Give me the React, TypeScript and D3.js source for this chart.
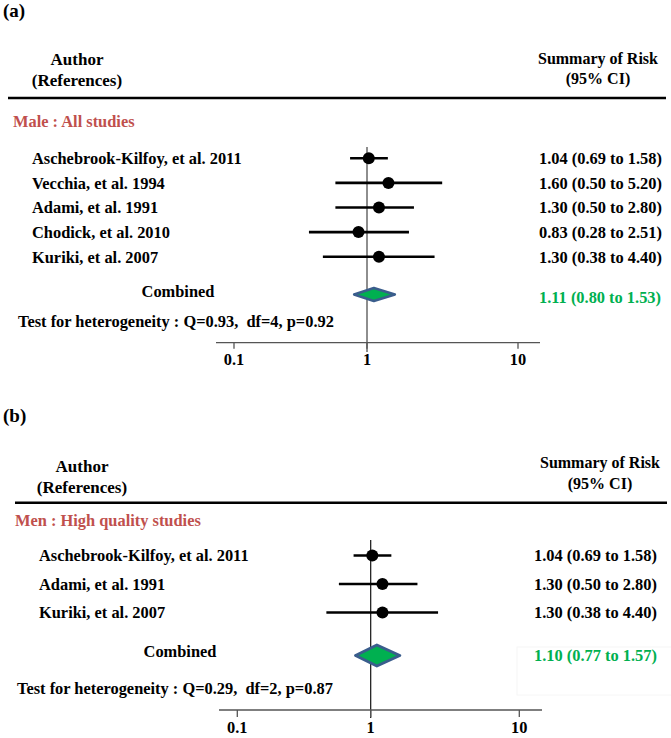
import React from "react";
import * as d3 from "d3";

// ---------- data ----------
const studiesA = [
  "Aschebrook-Kilfoy, et al. 2011",
  "Vecchia, et al. 1994",
  "Adami, et al. 1991",
  "Chodick, et al. 2010",
  "Kuriki, et al. 2007",
];
const rrA = [1.04, 1.6, 1.3, 0.83, 1.3];
const lowA = [0.69, 0.5, 0.5, 0.28, 0.38];
const highA = [1.58, 5.2, 2.8, 2.51, 4.4];
const combinedA = [1.11, 0.8, 1.53];
const hetA = "Test for heterogeneity : Q=0.93,\u00A0\u00A0df=4, p=0.92";
const groupA = "Male : All studies";

const studiesB = [
  "Aschebrook-Kilfoy, et al. 2011",
  "Adami, et al. 1991",
  "Kuriki, et al. 2007",
];
const rrB = [1.04, 1.3, 1.3];
const lowB = [0.69, 0.5, 0.38];
const highB = [1.58, 2.8, 4.4];
const combinedB = [1.1, 0.77, 1.57];
const hetB = "Test for heterogeneity : Q=0.29,\u00A0\u00A0df=2, p=0.87";
const groupB = "Men : High quality studies";

const tickValues = [0.1, 1, 10];

const FONT = "'Liberation Serif', 'Times New Roman', serif";
const GREEN = "#00b050";
const ROSE = "#c0504d";
const f2 = d3.format(".2f");
const ciText = (v: number, lo: number, hi: number) => `${f2(v)} (${f2(lo)} to ${f2(hi)})`;

type Layout = {
  label: string; labelY: number;
  authorX: number; authorY1: number; authorY2: number;
  sumX: number; sumY1: number; sumY2: number;
  hrY: number; hrX1: number; hrX2: number;
  groupX: number; groupY: number;
  rowY0: number; rowStep: number; nameX: number; valueX: number;
  combLabelX: number; combLabelY: number; combY: number; combH: number; combValueY: number;
  testX: number; testY: number;
  vTop: number; vBottom: number; vColor: string; vWidth: number;
  axisY: number; axisX1: number; axisX2: number; tickLen: number; tickLabelY: number;
  axisRange: number[]; markRange: number[];
  diamondStroke: number;
  faintBox?: boolean;
};

function Panel(props: {
  lay: Layout; group: string; studies: string[]; rr: number[]; lo: number[]; hi: number[];
  comb: number[]; het: string;
}) {
  const { lay, group, studies, rr, lo, hi, comb, het } = props;
  const axisScale = d3.scaleLog().domain([0.1, 1, 10]).range(lay.axisRange);
  const markScale = d3.scaleLog().domain([0.1, 10]).range(lay.markRange);
  const yScale = (i: number) => lay.rowY0 + lay.rowStep * i;
  const [cv, clo, chi] = comb;
  const diamond = d3.line()([
    [axisScale(clo), lay.combY],
    [axisScale(cv), lay.combY - lay.combH],
    [axisScale(chi), lay.combY],
    [axisScale(cv), lay.combY + lay.combH],
  ]) + "Z";
  const bold = { fontFamily: FONT, fontWeight: 700, fontSize: 16.4 } as const;
  const head = { ...bold, fontSize: 17 };
  return (
    <g>
      <text x={3} y={lay.labelY} style={{ ...bold, fontSize: 19 }}>{lay.label}</text>
      <text x={lay.authorX} y={lay.authorY1} textAnchor="middle" style={head}>Author</text>
      <text x={lay.authorX} y={lay.authorY2} textAnchor="middle" style={head}>(References)</text>
      <text x={lay.sumX} y={lay.sumY1} textAnchor="middle" style={{ ...bold, fontSize: 16 }}>Summary of Risk</text>
      <text x={lay.sumX} y={lay.sumY2} textAnchor="middle" style={{ ...bold, fontSize: 16 }}>(95% CI)</text>
      <line x1={lay.hrX1} x2={lay.hrX2} y1={lay.hrY} y2={lay.hrY} stroke="#000" strokeWidth={2.5} />
      <text x={lay.groupX} y={lay.groupY} fill={ROSE} style={bold}>{group}</text>

      {/* reference line at 1 */}
      <line x1={axisScale(1)} x2={axisScale(1)} y1={lay.vTop} y2={lay.vBottom} stroke={lay.vColor} strokeWidth={lay.vWidth} />

      {studies.map((s, i) => (
        <g key={s}>
          <text x={lay.nameX} y={yScale(i) + 5.8} style={bold}>{s}</text>
          <line x1={markScale(lo[i])} x2={markScale(hi[i])} y1={yScale(i)} y2={yScale(i)} stroke="#000" strokeWidth={2.6} />
          <circle cx={markScale(rr[i])} cy={yScale(i)} r={6} fill="#000" />
          <text x={lay.valueX} y={yScale(i) + 5.8} style={bold}>{ciText(rr[i], lo[i], hi[i])}</text>
        </g>
      ))}

      <text x={lay.combLabelX} y={lay.combLabelY} textAnchor="middle" style={bold}>Combined</text>
      <path d={diamond} fill={GREEN} stroke="#3a5d8c" strokeWidth={lay.diamondStroke} strokeLinejoin="round" />
      {lay.faintBox && (
        <rect x={517} y={647} width={160} height={48} fill="none" stroke="#f6f6f6" strokeWidth={1} />
      )}
      <text x={lay.valueX} y={lay.combValueY} fill={GREEN} style={bold}>{ciText(cv, clo, chi)}</text>

      <text x={lay.testX} y={lay.testY} style={bold}>{het}</text>

      <line x1={lay.axisX1} x2={lay.axisX2} y1={lay.axisY} y2={lay.axisY} stroke="#555" strokeWidth={1.3} />
      {tickValues.map((t) => (
        <g key={t}>
          <line x1={axisScale(t)} x2={axisScale(t)} y1={lay.axisY} y2={lay.axisY + lay.tickLen} stroke="#555" strokeWidth={1.3} />
          <text x={axisScale(t)} y={lay.tickLabelY} textAnchor="middle" style={bold}>{String(t)}</text>
        </g>
      ))}
    </g>
  );
}

const layA: Layout = {
  label: "(a)", labelY: 17,
  authorX: 77, authorY1: 65, authorY2: 86,
  sumX: 598, sumY1: 64, sumY2: 84,
  hrY: 98, hrX1: 8, hrX2: 666,
  groupX: 13, groupY: 127,
  rowY0: 158.3, rowStep: 24.6, nameX: 32, valueX: 539,
  combLabelX: 178, combLabelY: 297, combY: 294.5, combH: 6.5, combValueY: 303,
  testX: 18, testY: 327,
  vTop: 147, vBottom: 352, vColor: "#8e8e8e", vWidth: 2,
  axisY: 342.7, axisX1: 216, axisX2: 540, tickLen: 6, tickLabelY: 365,
  axisRange: [234, 367, 518], markRange: [262, 472],
  diamondStroke: 2.5,
};

const layB: Layout = {
  label: "(b)", labelY: 421.5,
  authorX: 82, authorY1: 472, authorY2: 493,
  sumX: 600, sumY1: 468, sumY2: 489,
  hrY: 502.7, hrX1: 15, hrX2: 667,
  groupX: 15, groupY: 526,
  rowY0: 555.5, rowStep: 28.5, nameX: 39, valueX: 534,
  combLabelX: 180, combLabelY: 657, combY: 655.5, combH: 10.5, combValueY: 661,
  testX: 17, testY: 694,
  vTop: 540, vBottom: 718, vColor: "#111", vWidth: 1.2,
  axisY: 710, axisX1: 219, axisX2: 542, tickLen: 7, tickLabelY: 733,
  axisRange: [237.3, 370.7, 519.3], markRange: [265.5, 475.5],
  diamondStroke: 3,
  faintBox: true,
};

export default function App() {
  return (
    <svg
      width={671}
      height={738}
      viewBox="0 0 671 738"
      style={{ position: "absolute", left: 0, top: 0, background: "#fff" }}
    >
      <rect width={671} height={738} fill="#fff" />
      <Panel lay={layA} group={groupA} studies={studiesA} rr={rrA} lo={lowA} hi={highA} comb={combinedA} het={hetA} />
      <Panel lay={layB} group={groupB} studies={studiesB} rr={rrB} lo={lowB} hi={highB} comb={combinedB} het={hetB} />
    </svg>
  );
}
